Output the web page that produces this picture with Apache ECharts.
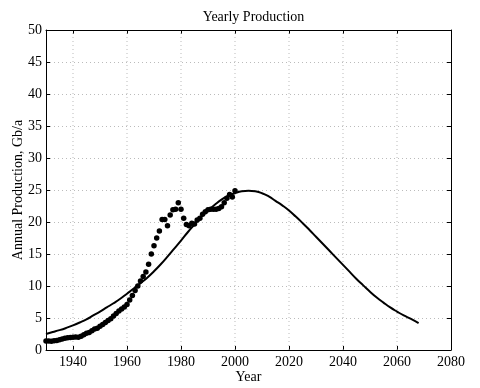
<!DOCTYPE html>
<html><head><meta charset="utf-8">
<script src="https://cdn.jsdelivr.net/npm/echarts@6/dist/echarts.min.js"></script>
<style>html,body{margin:0;padding:0;background:#fff}#c{width:480px;height:388px}</style>
</head><body><div id="c"></div>
<script>
const xTicks = [1940,1960,1980,2000,2020,2040,2060,2080];
const xGridLines = [1940,1960,1980,2000,2020,2040,2060];
const curveYears = [1930,1932.5,1935,1937.5,1940,1942.5,1945,1947.5,1950,1952.5,1955,1957.5,1960,1962.5,1965,1967.5,1970,1972.5,1975,1977.5,1980,1982.5,1985,1987.5,1990,1992.5,1995,1997.5,2000,2002.5,2005,2007.5,2010,2012.5,2015,2017.5,2020,2022.5,2025,2027.5,2030,2032.5,2035,2037.5,2040,2042.5,2045,2047.5,2050,2052.5,2055,2057.5,2060,2062.5,2065,2068];
const curveVals  = [2.5,2.8,3.1,3.45,3.85,4.3,4.8,5.4,6.0,6.65,7.3,8.0,8.8,9.6,10.45,11.3,12.3,13.4,14.6,15.85,17.1,18.4,19.6,20.8,21.8,22.7,23.5,24.1,24.5,24.8,24.9,24.8,24.5,24.0,23.3,22.6,21.8,20.85,19.85,18.8,17.7,16.6,15.5,14.4,13.3,12.2,11.1,10.1,9.1,8.2,7.4,6.65,6.0,5.4,4.9,4.2];
const dotYears = [];
for (let y = 1930; y <= 2000; y++) dotYears.push(y);
const dotVals = [1.4,1.4,1.35,1.45,1.5,1.6,1.7,1.85,1.9,1.95,
  2.0,2.05,2.0,2.15,2.4,2.6,2.75,3.0,3.3,3.4,
  3.7,4.0,4.3,4.6,4.9,5.3,5.7,6.1,6.4,6.7,
  7.1,7.8,8.5,9.3,10.0,10.8,11.5,12.2,13.4,15.0,
  16.3,17.5,18.6,20.4,20.4,19.4,21.1,21.9,22.0,23.0,
  22.0,20.6,19.6,19.4,19.8,19.7,20.3,20.6,21.2,21.6,
  21.9,22.0,22.0,22.0,22.1,22.4,23.0,23.7,24.3,23.9,
  24.9];
const yMin = 0, yMax = 50;

const font = 'Liberation Serif';
const gridLine = { color: '#bbb', type: [1, 3], width: 1 };
const gridData = [];
xGridLines.forEach(v => { gridData.push([v, yMin], [v, yMax], [v, null]); });

const chart = echarts.init(document.getElementById('c'));
chart.setOption({
  animation: false,
  backgroundColor: '#fff',
  title: { text: 'Yearly Production', left: 248.5, textAlign: 'center', top: 5,
    textStyle: { fontFamily: font, fontSize: 14, fontWeight: 'normal', color: '#000' } },
  grid: { left: 46, right: 29, top: 30, bottom: 38, outerBoundsMode: 'none', containLabel: false },
  xAxis: [{
    type: 'value', min: 1930, max: 2080,
    name: 'Year', nameLocation: 'middle', nameGap: 20, nameMoveOverlap: false,
    nameTextStyle: { fontFamily: font, fontSize: 14, color: '#000' },
    axisLine: { show: true, lineStyle: { color: '#000', width: 1 } },
    axisTick: { show: true, inside: true, length: 4, customValues: xTicks, lineStyle: { color: '#000' } },
    axisLabel: { customValues: xTicks, formatter: v => String(v), fontFamily: font, fontSize: 14, color: '#000', margin: 5 },
    splitLine: { show: false }
  }, {
    type: 'value', min: 1930, max: 2080, position: 'top',
    axisLine: { show: true, onZero: false, lineStyle: { color: '#000', width: 1 } },
    axisTick: { show: true, inside: true, length: 4, customValues: xTicks, lineStyle: { color: '#000' } },
    axisLabel: { show: false, customValues: xTicks },
    splitLine: { show: false }
  }],
  yAxis: [{
    type: 'value', min: yMin, max: yMax, interval: 5,
    name: 'Annual Production, Gb/a', nameLocation: 'middle', nameGap: 21, nameMoveOverlap: false,
    nameTextStyle: { fontFamily: font, fontSize: 14, color: '#000' },
    axisLine: { show: true, lineStyle: { color: '#000', width: 1 } },
    axisTick: { show: true, inside: true, length: 4, lineStyle: { color: '#000' } },
    axisLabel: { fontFamily: font, fontSize: 14, color: '#000', margin: 4 },
    splitLine: { show: true, lineStyle: gridLine }
  }, {
    type: 'value', min: yMin, max: yMax, interval: 5, position: 'right',
    axisLine: { show: true, onZero: false, lineStyle: { color: '#000', width: 1 } },
    axisTick: { show: true, inside: true, length: 4, lineStyle: { color: '#000' } },
    axisLabel: { show: false },
    splitLine: { show: false }
  }],
  series: [{
    type: 'line', xAxisIndex: 0, yAxisIndex: 0, z: 1, silent: true,
    data: gridData, connectNulls: false, showSymbol: false, symbol: 'none',
    lineStyle: gridLine
  }, {
    type: 'line', xAxisIndex: 0, yAxisIndex: 0, z: 3,
    data: curveYears.map((y, i) => [y, curveVals[i]]),
    smooth: true, showSymbol: false,
    lineStyle: { color: '#000', width: 2 }
  }, {
    type: 'scatter', xAxisIndex: 0, yAxisIndex: 0, z: 4,
    data: dotYears.map((y, i) => [y, dotVals[i]]),
    symbol: 'circle', symbolSize: 5.5,
    itemStyle: { color: '#000', opacity: 1 }
  }]
});
</script></body></html>
